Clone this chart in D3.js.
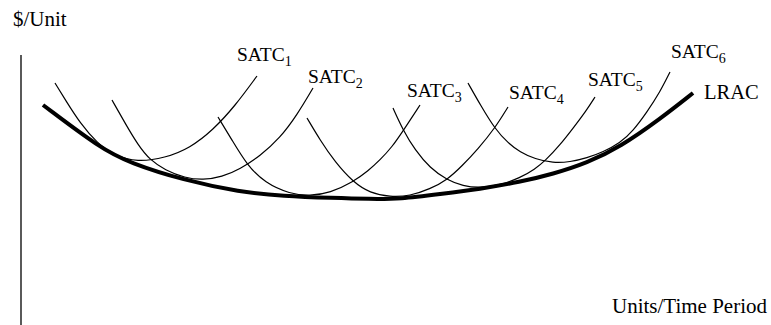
<!DOCTYPE html>
<html>
<head>
<meta charset="utf-8">
<script src="https://cdn.jsdelivr.net/npm/d3@7"></script>
<style>
  body { margin: 0; background: #fff; }
</style>
</head>
<body>
<div id="chart"></div>
<script>
// long run average cost curve, [quantity, cost]
var lrac = [[2.2, 22.0], [7.9, 17.7], [10.9, 16.2], [16.2, 14.5], [21.9, 13.3], [26.2, 12.9],
    [31.2, 12.7], [34.9, 12.6], [37.9, 12.6], [41.9, 13.1], [45.9, 13.6], [49.9, 14.3],
    [53.2, 15.1], [56.6, 16.2], [59.9, 17.8], [63.9, 20.6], [67.2, 23.2]];

// short run average cost curves
var satc1 = [[3.4, 24.2], [4.5, 22.4], [5.9, 20.2], [7.6, 18.2], [9.4, 16.9], [11.6, 16.3],
    [14.4, 16.7], [16.9, 17.7], [19.2, 19.5], [21.4, 21.9], [23.6, 24.9]];
var satc2 = [[9.1, 22.5], [10.4, 20.2], [11.7, 18.0], [12.9, 16.5], [14.4, 15.5], [16.4, 14.7],
    [18.2, 14.5], [20.1, 14.8], [21.9, 15.6], [23.9, 16.9], [25.9, 18.7], [27.6, 21.0], [29.2, 23.7]];
var satc3 = [[19.7, 20.8], [21.1, 18.5], [22.6, 16.0], [24.4, 14.2], [26.9, 13.1], [28.9, 12.9],
    [30.9, 13.2], [33.2, 14.3], [34.7, 15.4], [35.9, 16.5], [37.1, 17.8], [38.2, 19.4], [39.9, 22.0]];
var satc4 = [[28.6, 20.7], [29.9, 18.5], [31.4, 16.3], [33.2, 14.3], [34.9, 13.2], [36.9, 12.8],
    [38.9, 12.9], [40.9, 13.6], [42.6, 14.5], [44.1, 15.9], [45.7, 17.6], [47.4, 19.7], [48.7, 21.8]];
var satc5 = [[37.2, 21.7], [38.2, 19.5], [39.4, 17.5], [40.9, 15.7], [42.6, 14.5], [44.2, 13.9],
    [45.9, 13.7], [47.9, 14.0], [49.9, 14.7], [51.4, 15.6], [52.4, 16.4], [53.9, 18.0],
    [55.3, 19.8], [56.5, 21.4], [57.4, 22.8]];
var satc6 = [[44.7, 24.2], [46.0, 21.9], [47.4, 19.6], [48.7, 18.2], [49.9, 17.3], [51.4, 16.6],
    [53.2, 16.2], [54.9, 16.3], [56.6, 16.7], [58.2, 17.3], [59.9, 18.2], [61.2, 19.4],
    [62.6, 21.3], [63.9, 23.3], [64.9, 25.3]];

var satcCurves = [satc1, satc2, satc3, satc4, satc5, satc6];
var satcSubs = ["1", "2", "3", "4", "5", "6"];

var yLabel = "$/Unit";
var xLabel = "Units/Time Period";
var lracLabel = "LRAC";

var width = 771, height = 325;
var serif = "'Liberation Serif', 'Times New Roman', Times, serif";

var x = d3.scaleLinear().domain([0, 74]).range([21, 761]);
var y = d3.scaleLinear().domain([0, 30]).range([325, 25]);

var svg = d3.select("#chart").append("svg")
    .attr("width", width)
    .attr("height", height)
    .style("font-family", serif);

// vertical axis only
svg.append("line")
    .attr("x1", x(0)).attr("x2", x(0))
    .attr("y1", y(0)).attr("y2", y(27))
    .attr("stroke", "#000")
    .attr("stroke-width", 1.3);

var line = d3.line()
    .x(function(d) { return x(d[0]); })
    .y(function(d) { return y(d[1]); })
    .curve(d3.curveBasis);

svg.selectAll(".satc")
    .data(satcCurves)
    .enter().append("path")
    .attr("class", "satc")
    .attr("d", line)
    .attr("fill", "none")
    .attr("stroke", "#000")
    .attr("stroke-width", 1.2);

svg.append("path")
    .datum(lrac)
    .attr("d", line)
    .attr("fill", "none")
    .attr("stroke", "#000")
    .attr("stroke-width", 4);

// label offsets from the end of each curve (px)
var labelOffsets = [[-20, -15], [-5, -5], [-13, -8], [1, -8], [-7, -11], [1, -14]];

var labels = svg.selectAll(".satcLabel")
    .data(satcCurves)
    .enter().append("text")
    .attr("class", "satcLabel")
    .style("font-family", serif)
    .attr("x", function(d, i) { return x(d[d.length - 1][0]) + labelOffsets[i][0]; })
    .attr("y", function(d, i) { return y(d[d.length - 1][1]) + labelOffsets[i][1]; })
    .style("font-size", "19.5px");

labels.append("tspan").text("SATC");
labels.append("tspan")
    .attr("dy", 5)
    .style("font-size", "14px")
    .text(function(d, i) { return satcSubs[i]; });

var lracEnd = lrac[lrac.length - 1];
svg.append("text")
    .style("font-family", serif)
    .attr("x", x(lracEnd[0]) + 11)
    .attr("y", y(lracEnd[1]) + 6)
    .style("font-size", "20.5px")
    .text(lracLabel);

svg.append("text")
    .style("font-family", serif)
    .attr("x", 13)
    .attr("y", 26)
    .style("font-size", "21px")
    .text(yLabel);

svg.append("text")
    .style("font-family", serif)
    .attr("x", 612)
    .attr("y", 313)
    .style("font-size", "21px")
    .text(xLabel);
</script>
</body>
</html>
